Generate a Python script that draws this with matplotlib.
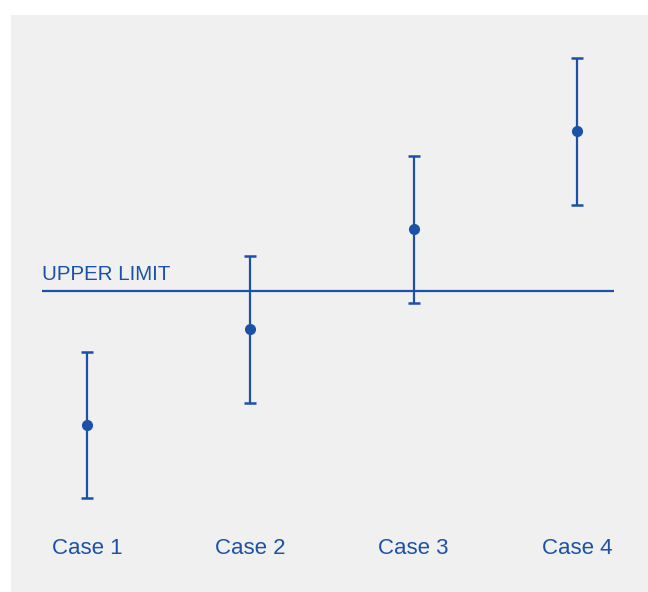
import matplotlib
matplotlib.use("Agg")
import matplotlib.pyplot as plt
from matplotlib.patches import Rectangle

# values (arbitrary units)
cases = ["Case 1", "Case 2", "Case 3", "Case 4"]
means = [0.75, 1.71, 2.71, 3.69]
errors = [0.73, 0.735, 0.735, 0.735]
upper_limit = 2.09

blue = "#1b51a6"
plt.rcParams['font.family'] = ['Liberation Sans', 'DejaVu Sans']

fig = plt.figure(figsize=(6.48, 5.92), dpi=100)
ax = fig.add_axes([0, 0, 1, 1])
ax.set_facecolor("white")

# grey panel
ax.add_patch(Rectangle((11 / 648, 0), 1 - 11 / 648, 1 - 15 / 592,
                       transform=ax.transAxes, facecolor="#f0f0f0",
                       edgecolor="none", zorder=0))

x = list(range(len(cases)))
ax.errorbar(x, means, yerr=errors, fmt="o", color=blue, ecolor=blue,
            markersize=7, elinewidth=1.6, capsize=4.5, capthick=1.8, zorder=3)

ax.hlines(upper_limit, -0.276, 3.227, color=blue, linewidth=1.6, zorder=2)
ax.text(-0.276, upper_limit + 0.11, "UPPER LIMIT", color=blue, fontsize=14.8,
        ha="left", va="baseline")

for xi, name in zip(x, cases):
    ax.text(xi, -0.49, name, color=blue, fontsize=16, ha="center", va="center")

ax.set_xlim(-0.533, 3.435)
ax.set_ylim(-0.92, 5.0)
ax.axis("off")

fig.savefig("out.png", dpi=100)
